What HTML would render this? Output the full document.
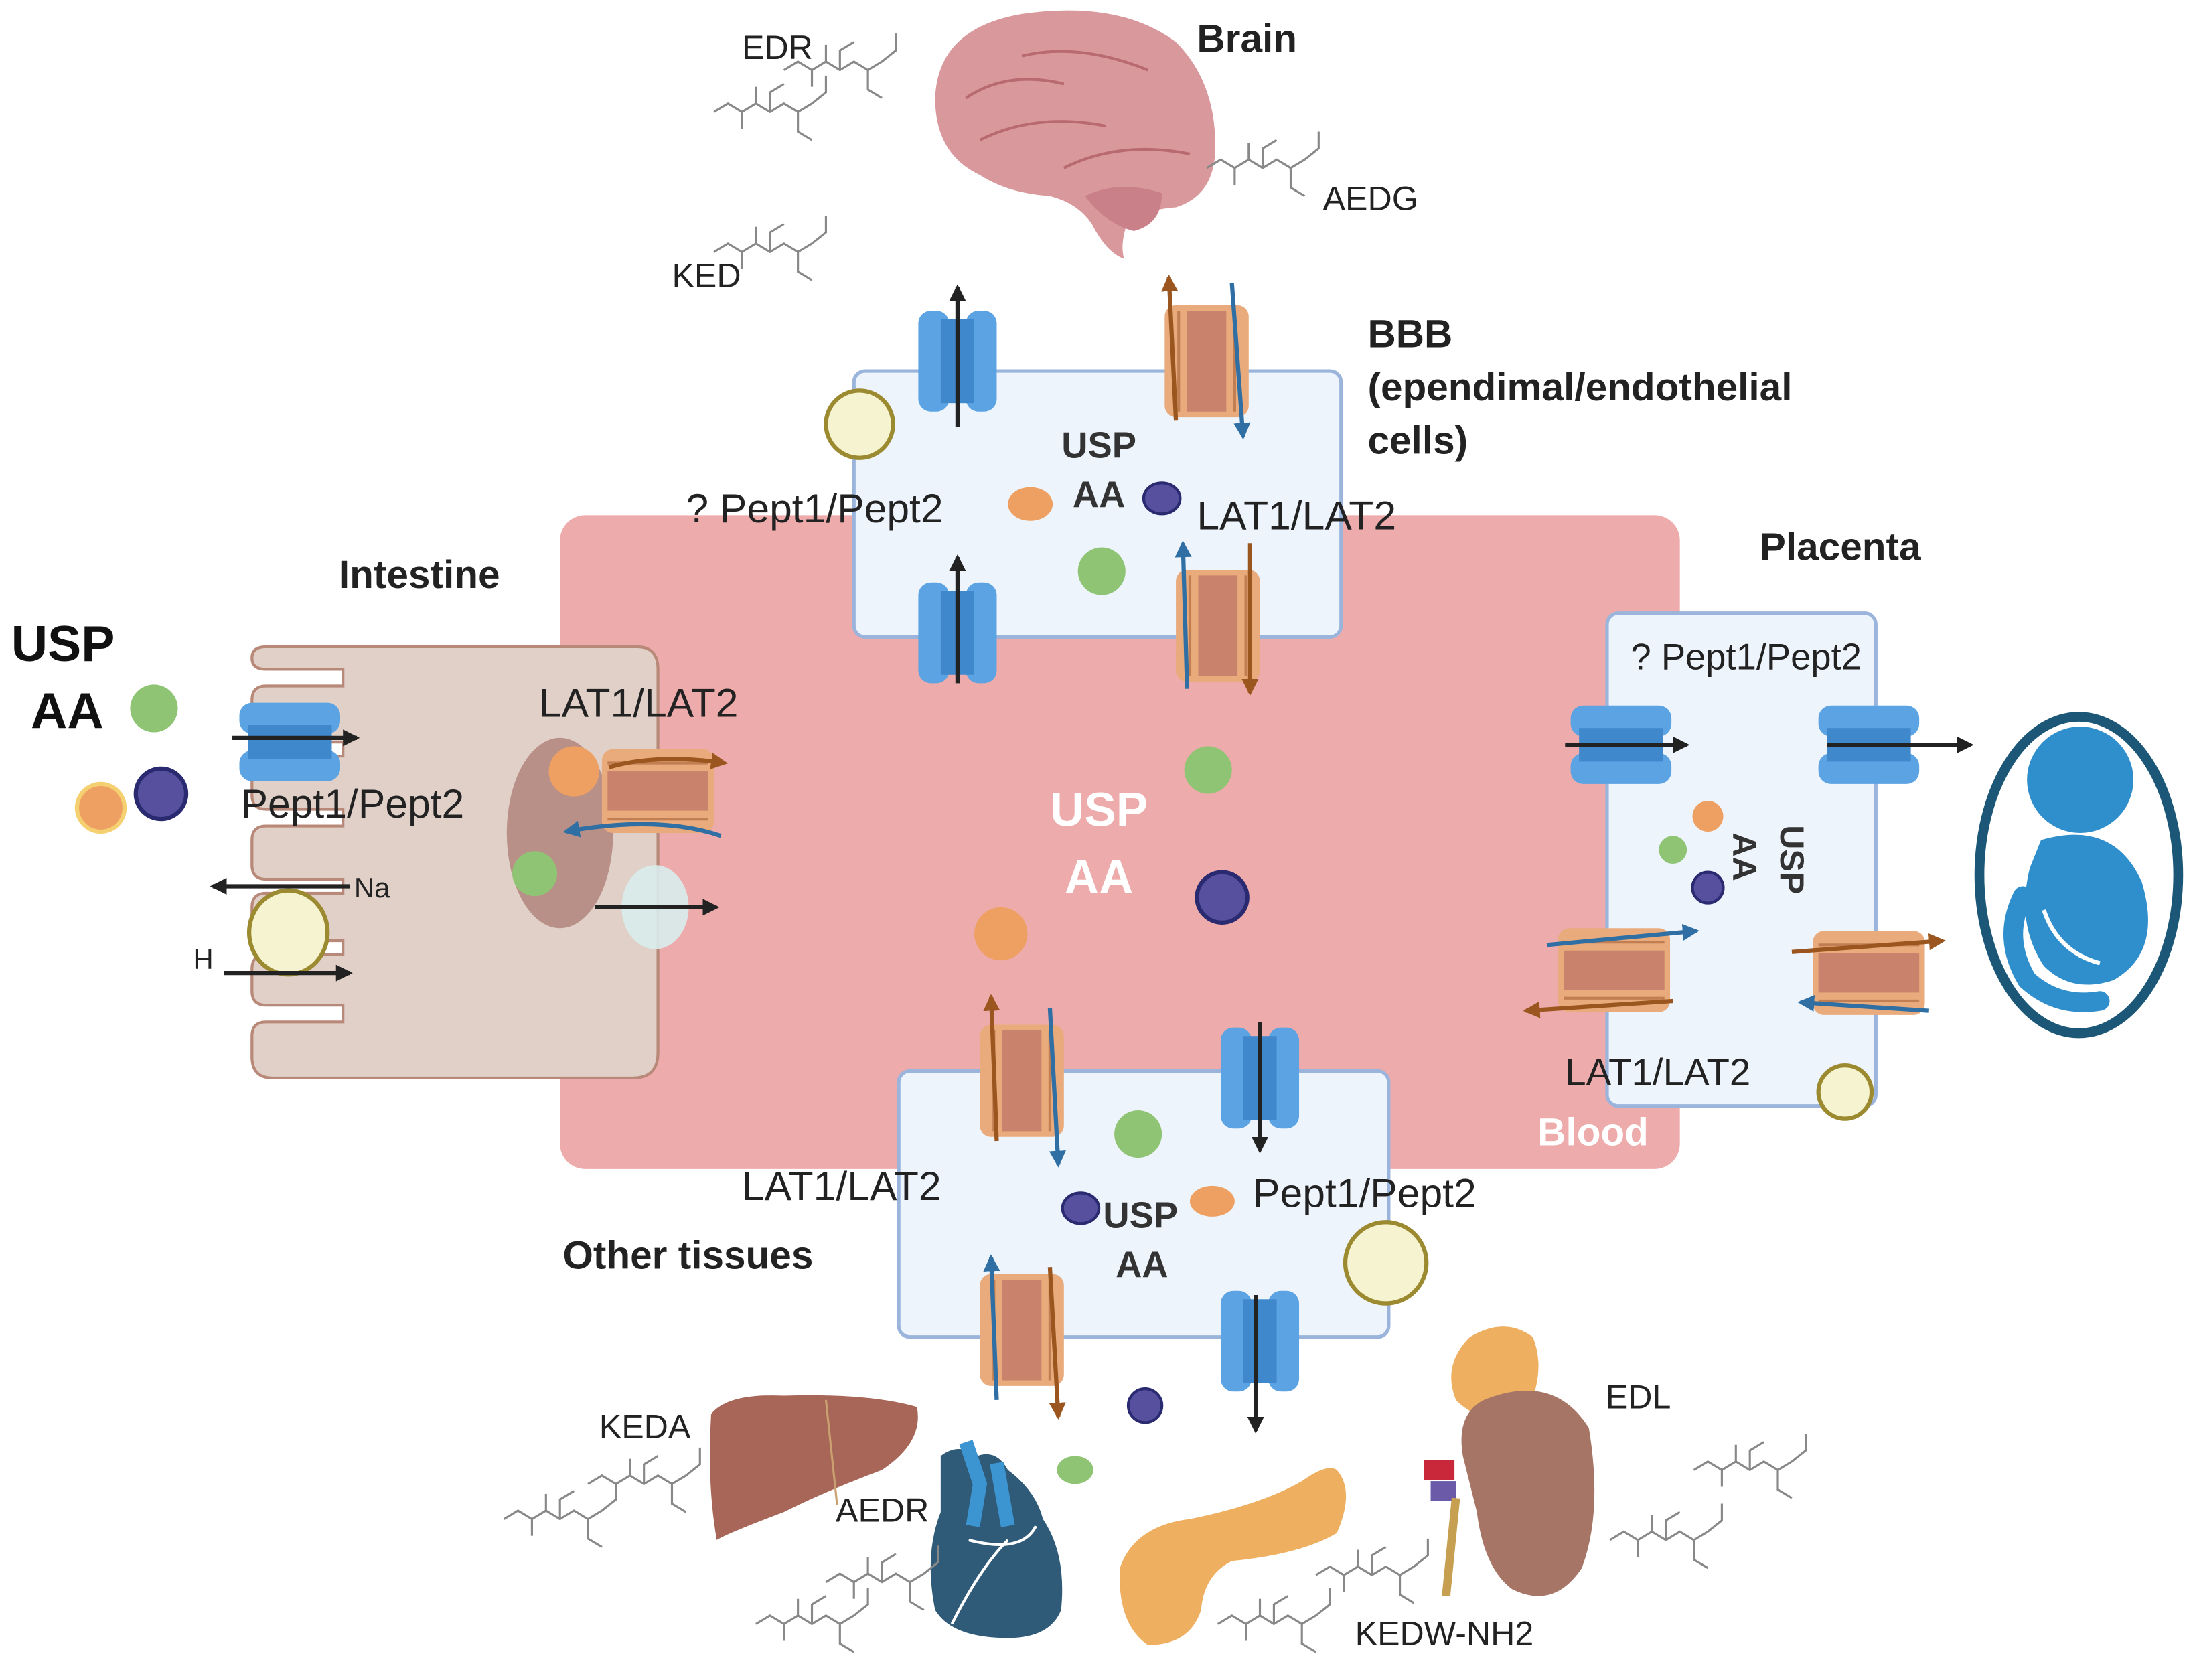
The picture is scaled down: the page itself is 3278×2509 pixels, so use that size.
<!DOCTYPE html>
<html><head><meta charset="utf-8"><style>
html,body{margin:0;padding:0;background:#fff}
svg{display:block}
text{font-family:"Liberation Sans",sans-serif}
</style></head><body>
<svg width="3278" height="2509" viewBox="0 0 1568 1200" preserveAspectRatio="none" xmlns="http://www.w3.org/2000/svg">
<defs>
<g id="ch">
<rect x="-28" y="-36" width="22" height="72" rx="9" fill="#5ba3e3"/>
<rect x="6" y="-36" width="22" height="72" rx="9" fill="#5ba3e3"/>
<rect x="-12" y="-30" width="24" height="60" fill="#3f88cc"/>
</g>
<g id="tr">
<rect x="-30" y="-40" width="60" height="80" rx="8" fill="#e9ab7c"/>
<rect x="-14" y="-36" width="28" height="72" fill="#c9826c"/>
<line x1="-20" y1="-36" x2="-20" y2="36" stroke="#c07e52" stroke-width="2"/>
<line x1="20" y1="-36" x2="20" y2="36" stroke="#c07e52" stroke-width="2"/>
</g>
<marker id="ak" markerWidth="8" markerHeight="8" refX="6" refY="4" orient="auto" markerUnits="userSpaceOnUse"><path d="M0,0 L14,4 L0,8 z" fill="#222" transform="scale(0.6,1)"/></marker>
<marker id="ab" markerWidth="12" markerHeight="12" refX="10" refY="6" orient="auto" markerUnits="userSpaceOnUse"><path d="M0,0 L12,6 L0,12 z" fill="#222"/></marker>
<marker id="ao" markerWidth="12" markerHeight="12" refX="10" refY="6" orient="auto" markerUnits="userSpaceOnUse"><path d="M0,0 L12,6 L0,12 z" fill="#9a561e"/></marker>
<marker id="au" markerWidth="12" markerHeight="12" refX="10" refY="6" orient="auto" markerUnits="userSpaceOnUse"><path d="M0,0 L12,6 L0,12 z" fill="#2f6fa3"/></marker>
<g id="mol" fill="none" stroke="#888" stroke-width="1.5">
<polyline points="0,40 10,34 20,40 30,34 40,40 50,34 60,40 70,34"/>
<polyline points="20,40 20,52"/><polyline points="40,40 40,26 50,20"/><polyline points="60,40 60,54 70,60"/>
<polyline points="30,34 30,22"/><polyline points="70,34 80,26 80,14"/>
</g>
</defs>

<!-- blood -->
<rect x="400" y="368" width="800" height="467" rx="18" fill="#eeabab"/>
<text x="1138" y="818" font-size="28" font-weight="bold" fill="#fff" text-anchor="middle">Blood</text>
<text x="785" y="590" font-size="34" font-weight="bold" fill="#fff" text-anchor="middle">USP</text>
<text x="785" y="638" font-size="34" font-weight="bold" fill="#fff" text-anchor="middle">AA</text>

<!-- BBB cell -->
<rect x="610" y="265" width="348" height="190" rx="8" fill="#edf4fc" stroke="#9ab4dc" stroke-width="2.5"/>
<!-- other tissues cell -->
<rect x="642" y="765" width="350" height="190" rx="8" fill="#edf4fc" stroke="#9ab4dc" stroke-width="2.5"/>
<!-- placenta cell -->
<rect x="1148" y="438" width="192" height="352" rx="8" fill="#edf4fc" stroke="#9ab4dc" stroke-width="2.5"/>

<!-- intestine cell -->
<path d="M190,462 L455,462 Q470,462 470,478 L470,752 Q470,770 452,770 L195,770 Q180,770 180,755 L180,740 Q180,730 190,730 L245,730 L245,718 L190,718 Q180,718 180,708 L180,692 Q180,682 190,682 L245,682 L245,672 L190,672 Q180,672 180,662 L180,648 Q180,638 190,638 L245,638 L245,628 L190,628 Q180,628 180,618 L180,600 Q180,590 190,590 L245,590 L245,578 L190,578 Q180,578 180,568 L180,550 Q180,540 190,540 L245,540 L245,530 L190,530 Q180,530 180,520 L180,500 Q180,490 190,490 L245,490 L245,478 L190,478 Q180,478 180,470 Q180,462 190,462 Z" fill="#e0d0c8" stroke="#b88878" stroke-width="2"/>
<ellipse cx="400" cy="595" rx="38" ry="68" fill="#b99088"/>
<ellipse cx="468" cy="648" rx="24" ry="30" fill="#d8ecec" opacity="0.9"/>
<line x1="425" y1="648" x2="512" y2="648" stroke="#222" stroke-width="3" marker-end="url(#ab)"/>
<circle cx="410" cy="551" r="18" fill="#eea062"/>
<circle cx="382" cy="624" r="16" fill="#8fc474"/>
<g transform="translate(470,565) rotate(90)"><use href="#tr"/></g>
<path d="M435,548 Q470,538 518,545" fill="none" stroke="#9a561e" stroke-width="3" marker-end="url(#ao)"/>
<path d="M515,597 Q470,582 404,594" fill="none" stroke="#2f6fa3" stroke-width="3" marker-end="url(#au)"/>
<g transform="translate(207,530) rotate(90)"><use href="#ch"/></g>
<line x1="166" y1="527" x2="255" y2="527" stroke="#222" stroke-width="3" marker-end="url(#ab)"/>
<ellipse cx="206" cy="666" rx="28" ry="30" fill="#f6f3d0" stroke="#9b8a30" stroke-width="3"/>
<line x1="250" y1="633" x2="152" y2="633" stroke="#222" stroke-width="3" marker-end="url(#ab)"/>
<line x1="160" y1="695" x2="250" y2="695" stroke="#222" stroke-width="3" marker-end="url(#ab)"/>
<text x="253" y="641" font-size="20" fill="#222">Na</text>
<text x="138" y="692" font-size="20" fill="#222">H</text>
<text x="172" y="584" font-size="29" fill="#222">Pept1/Pept2</text>
<text x="385" y="512" font-size="29" fill="#222">LAT1/LAT2</text>
<text x="242" y="420" font-size="28" font-weight="bold" fill="#222">Intestine</text>
<text x="8" y="472" font-size="36" font-weight="bold" fill="#111">USP</text>
<text x="22" y="520" font-size="36" font-weight="bold" fill="#111">AA</text>
<circle cx="110" cy="506" r="17" fill="#8fc474"/>
<circle cx="72" cy="577" r="17" fill="#eea062" stroke="#f5d070" stroke-width="3"/>
<circle cx="115" cy="567" r="18" fill="#56509e" stroke="#2a2a70" stroke-width="3"/>

<!-- BBB transporters -->
<g transform="translate(684,258)"><use href="#ch"/></g>
<line x1="684" y1="305" x2="684" y2="205" stroke="#222" stroke-width="3" marker-end="url(#ab)"/>
<g transform="translate(862,258)"><use href="#tr"/></g>
<line x1="840" y1="300" x2="835" y2="198" stroke="#9a561e" stroke-width="3" marker-end="url(#ao)"/>
<line x1="880" y1="202" x2="888" y2="312" stroke="#2f6fa3" stroke-width="3" marker-end="url(#au)"/>
<g transform="translate(684,452)"><use href="#ch"/></g>
<line x1="684" y1="488" x2="684" y2="398" stroke="#222" stroke-width="3" marker-end="url(#ab)"/>
<g transform="translate(870,447)"><use href="#tr"/></g>
<line x1="848" y1="492" x2="845" y2="388" stroke="#2f6fa3" stroke-width="3" marker-end="url(#au)"/>
<line x1="893" y1="388" x2="893" y2="495" stroke="#9a561e" stroke-width="3" marker-end="url(#ao)"/>
<ellipse cx="614" cy="303" rx="24" ry="24" fill="#f6f3d0" stroke="#9b8a30" stroke-width="3"/>
<text x="785" y="327" font-size="26" font-weight="bold" fill="#333" text-anchor="middle">USP</text>
<text x="785" y="362" font-size="26" font-weight="bold" fill="#333" text-anchor="middle">AA</text>
<ellipse cx="736" cy="360" rx="16" ry="12" fill="#eea062"/>
<ellipse cx="830" cy="356" rx="13" ry="11" fill="#56509e" stroke="#2a2a70" stroke-width="2"/>
<circle cx="787" cy="408" r="17" fill="#8fc474"/>
<text x="490" y="373" font-size="29" fill="#222">? Pept1/Pept2</text>
<text x="855" y="378" font-size="29" fill="#222">LAT1/LAT2</text>
<text x="977" y="248" font-size="28" font-weight="bold" fill="#222">BBB</text>
<text x="977" y="286" font-size="28" font-weight="bold" fill="#222">(ependimal/endothelial</text>
<text x="977" y="324" font-size="28" font-weight="bold" fill="#222">cells)</text>

<!-- blood dots -->
<circle cx="863" cy="550" r="17" fill="#8fc474"/>
<circle cx="873" cy="641" r="18" fill="#56509e" stroke="#2a2a70" stroke-width="3"/>
<circle cx="715" cy="667" r="19" fill="#eea062"/>

<!-- Brain -->
<text x="855" y="37" font-size="28" font-weight="bold" fill="#222">Brain</text>
<path d="M668,70 Q670,20 730,10 Q800,0 840,30 Q870,60 868,110 Q866,140 840,148 Q815,150 805,160 Q800,175 803,185 Q790,180 780,160 Q770,145 750,140 Q720,138 700,125 Q668,110 668,70 Z" fill="#d9989c"/>
<path d="M690,70 Q720,50 760,60 M700,100 Q740,80 790,90 M730,40 Q770,30 820,50 M760,120 Q800,100 850,110" stroke="#b86a70" stroke-width="2" fill="none"/>
<path d="M775,140 Q800,128 830,138 Q830,160 810,165 Q790,160 775,140 Z" fill="#c98088"/>
<text x="530" y="42" font-size="24" fill="#222">EDR</text>
<text x="945" y="150" font-size="24" fill="#222">AEDG</text>
<text x="480" y="205" font-size="24" fill="#222">KED</text>
<use href="#mol" x="510" y="40"/><use href="#mol" x="560" y="10"/>
<use href="#mol" x="510" y="140"/><use href="#mol" x="862" y="80"/>

<!-- Other tissues -->
<g transform="translate(730,772)"><use href="#tr"/></g>
<line x1="712" y1="815" x2="708" y2="712" stroke="#9a561e" stroke-width="3" marker-end="url(#ao)"/>
<line x1="750" y1="720" x2="756" y2="832" stroke="#2f6fa3" stroke-width="3" marker-end="url(#au)"/>
<g transform="translate(900,770)"><use href="#ch"/></g>
<line x1="900" y1="730" x2="900" y2="822" stroke="#222" stroke-width="3" marker-end="url(#ab)"/>
<g transform="translate(730,950)"><use href="#tr"/></g>
<line x1="712" y1="1000" x2="708" y2="898" stroke="#2f6fa3" stroke-width="3" marker-end="url(#au)"/>
<line x1="750" y1="905" x2="756" y2="1012" stroke="#9a561e" stroke-width="3" marker-end="url(#ao)"/>
<g transform="translate(900,958)"><use href="#ch"/></g>
<line x1="897" y1="925" x2="897" y2="1022" stroke="#222" stroke-width="3" marker-end="url(#ab)"/>
<circle cx="813" cy="810" r="17" fill="#8fc474"/>
<ellipse cx="772" cy="863" rx="13" ry="11" fill="#56509e" stroke="#2a2a70" stroke-width="2"/>
<ellipse cx="866" cy="858" rx="16" ry="11" fill="#eea062"/>
<circle cx="990" cy="902" r="29" fill="#f6f3d0" stroke="#9b8a30" stroke-width="3"/>
<text x="788" y="877" font-size="26" font-weight="bold" fill="#333">USP</text>
<text x="797" y="912" font-size="26" font-weight="bold" fill="#333">AA</text>
<text x="530" y="857" font-size="29" fill="#222">LAT1/LAT2</text>
<text x="895" y="862" font-size="29" fill="#222">Pept1/Pept2</text>
<text x="402" y="906" font-size="28" font-weight="bold" fill="#222">Other tissues</text>
<ellipse cx="818" cy="1004" rx="12" ry="12" fill="#56509e" stroke="#2a2a70" stroke-width="2"/>
<ellipse cx="768" cy="1050" rx="13" ry="10" fill="#8fc474"/>

<!-- organs -->
<path d="M508,1010 Q520,995 560,997 Q620,995 655,1005 Q660,1030 630,1050 Q590,1065 560,1080 Q520,1095 512,1100 Q505,1060 508,1010 Z" fill="#a76657"/>
<line x1="590" y1="1000" x2="598" y2="1075" stroke="#caa070" stroke-width="1.5"/>
<path d="M672,1040 Q685,1030 698,1040 Q712,1035 720,1050 Q740,1065 745,1085 Q762,1110 758,1150 Q750,1170 720,1170 Q680,1170 668,1150 Q660,1110 672,1080 Z" fill="#2f5b78"/>
<path d="M690,1030 L700,1060 L695,1090 M712,1045 L720,1090" stroke="#3c94d0" stroke-width="10" fill="none"/>
<path d="M692,1100 Q730,1110 740,1090 M680,1160 Q700,1120 720,1100" stroke="#fff" stroke-width="2" fill="none"/>
<path d="M955,1050 Q968,1065 955,1095 Q930,1110 880,1115 Q860,1125 858,1150 Q850,1175 820,1175 Q798,1160 800,1120 Q810,1090 850,1085 Q900,1075 930,1058 Q948,1045 955,1050 Z" fill="#eeb060"/>
<path d="M1050,955 Q1075,940 1095,955 Q1105,980 1090,1010 Q1060,1020 1040,1000 Q1030,975 1050,955 Z" fill="#eeb060"/>
<path d="M1060,1000 Q1110,980 1135,1020 Q1145,1080 1130,1120 Q1110,1150 1080,1135 Q1060,1120 1055,1080 Q1050,1060 1045,1040 Q1040,1010 1060,1000 Z" fill="#a77566"/>
<rect x="1017" y="1043" width="22" height="14" fill="#c8283a"/>
<rect x="1022" y="1058" width="18" height="14" fill="#6a5aa8"/>
<line x1="1040" y1="1070" x2="1033" y2="1140" stroke="#c6a050" stroke-width="6"/>
<text x="428" y="1027" font-size="24" fill="#222">KEDA</text>
<text x="597" y="1087" font-size="24" fill="#222">AEDR</text>
<text x="1147" y="1006" font-size="24" fill="#222">EDL</text>
<text x="968" y="1175" font-size="24" fill="#222">KEDW-NH2</text>
<use href="#mol" x="360" y="1045"/><use href="#mol" x="420" y="1020"/>
<use href="#mol" x="540" y="1120"/><use href="#mol" x="590" y="1090"/>
<use href="#mol" x="870" y="1120"/><use href="#mol" x="940" y="1085"/>
<use href="#mol" x="1150" y="1060"/><use href="#mol" x="1210" y="1010"/>

<!-- placenta -->
<text x="1257" y="400" font-size="28" font-weight="bold" fill="#222">Placenta</text>
<text x="1165" y="478" font-size="26" fill="#222">? Pept1/Pept2</text>
<g transform="translate(1158,532) rotate(90)"><use href="#ch"/></g>
<line x1="1118" y1="532" x2="1205" y2="532" stroke="#222" stroke-width="3" marker-end="url(#ab)"/>
<g transform="translate(1335,532) rotate(90)"><use href="#ch"/></g>
<line x1="1305" y1="532" x2="1408" y2="532" stroke="#222" stroke-width="3" marker-end="url(#ab)"/>
<circle cx="1220" cy="583" r="11" fill="#eea062"/>
<circle cx="1195" cy="607" r="10" fill="#8fc474"/>
<circle cx="1220" cy="634" r="11" fill="#56509e" stroke="#2a2a70" stroke-width="2"/>
<text transform="translate(1238,612) rotate(90)" font-size="24" font-weight="bold" fill="#333" text-anchor="middle">AA</text>
<text transform="translate(1272,614) rotate(90)" font-size="24" font-weight="bold" fill="#333" text-anchor="middle">USP</text>
<g transform="translate(1153,693) rotate(90)"><use href="#tr"/></g>
<line x1="1105" y1="675" x2="1212" y2="665" stroke="#2f6fa3" stroke-width="3" marker-end="url(#au)"/>
<line x1="1195" y1="715" x2="1090" y2="722" stroke="#9a561e" stroke-width="3" marker-end="url(#ao)"/>
<g transform="translate(1335,695) rotate(90)"><use href="#tr"/></g>
<line x1="1280" y1="680" x2="1388" y2="672" stroke="#9a561e" stroke-width="3" marker-end="url(#ao)"/>
<line x1="1378" y1="722" x2="1286" y2="716" stroke="#2f6fa3" stroke-width="3" marker-end="url(#au)"/>
<text x="1118" y="775" font-size="27" fill="#222">LAT1/LAT2</text>
<circle cx="1318" cy="780" r="19" fill="#f6f3d0" stroke="#9b8a30" stroke-width="3"/>

<!-- fetus -->
<ellipse cx="1485" cy="625" rx="71" ry="113" fill="#fff" stroke="#1c5777" stroke-width="7"/>
<circle cx="1486" cy="557" r="38" fill="#2f8fcc"/>
<path d="M1458,600 Q1510,585 1530,630 Q1545,680 1510,700 Q1480,710 1460,690 Q1440,660 1450,620 Z" fill="#2f8fcc"/>
<path d="M1445,640 Q1430,670 1448,700 Q1470,720 1500,715" stroke="#2f8fcc" stroke-width="14" fill="none" stroke-linecap="round"/>
<path d="M1460,650 Q1470,680 1500,688" stroke="#fff" stroke-width="3" fill="none"/>
</svg>
</body></html>
